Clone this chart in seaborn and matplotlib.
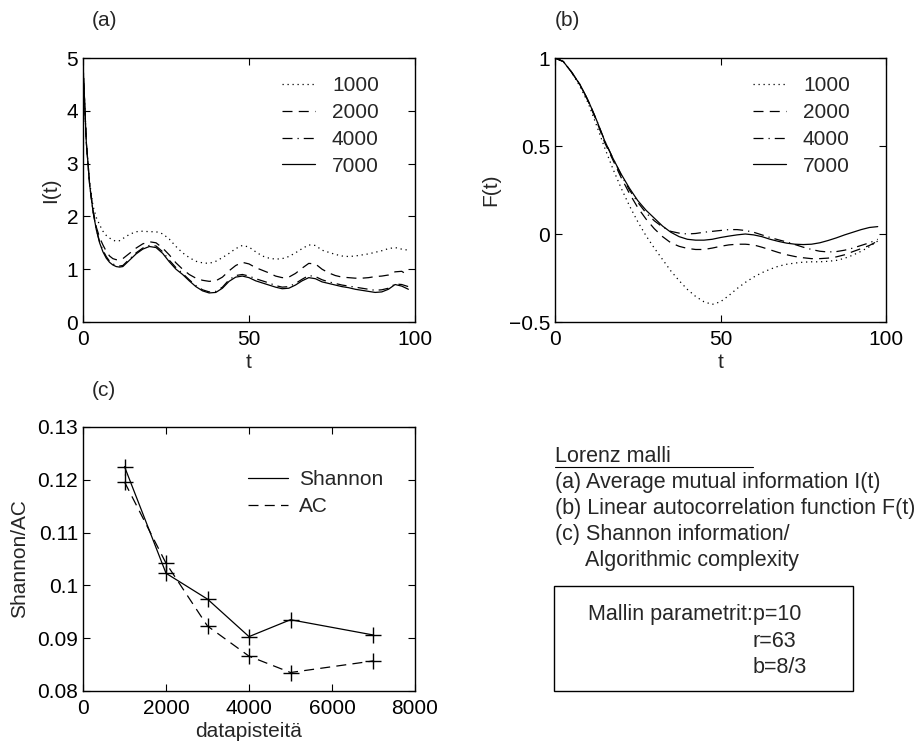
import matplotlib
matplotlib.use('Agg')
import matplotlib.pyplot as plt
import seaborn as sns
from matplotlib.lines import Line2D
from matplotlib.patches import Rectangle
from matplotlib.ticker import FuncFormatter

# (a) average mutual information I(t)
t_a = [0, 1, 2, 3, 4, 5, 6, 7, 8, 9, 10, 11, 12, 14, 16, 18, 20, 22, 24, 26, 28, 30,
       32, 34, 36, 38, 40, 42, 44, 46, 48, 50, 52, 54, 56, 58, 60, 62, 64, 66, 68, 70,
       72, 74, 76, 78, 80, 82, 84, 86, 88, 90, 92, 94, 96, 98]
i_1000 = [4.9, 3.4, 2.65, 2.2, 1.98, 1.84, 1.72, 1.64, 1.59, 1.55, 1.53, 1.54, 1.58, 1.66,
          1.71, 1.72, 1.71, 1.71, 1.67, 1.57, 1.43, 1.31, 1.22, 1.15, 1.12, 1.11, 1.15, 1.22,
          1.3, 1.39, 1.45, 1.42, 1.33, 1.25, 1.21, 1.19, 1.2, 1.24, 1.31, 1.39, 1.46, 1.45,
          1.36, 1.32, 1.28, 1.25, 1.24, 1.25, 1.27, 1.29, 1.32, 1.35, 1.39, 1.41, 1.38, 1.36]
i_2000 = [4.9, 3.4, 2.6, 2.12, 1.8, 1.6, 1.46, 1.34, 1.25, 1.2, 1.18, 1.18, 1.2, 1.3, 1.4,
          1.48, 1.52, 1.5, 1.4, 1.27, 1.12, 1.0, 0.9, 0.83, 0.79, 0.77, 0.78, 0.85, 0.97,
          1.07, 1.13, 1.1, 1.03, 0.98, 0.93, 0.87, 0.84, 0.85, 0.92, 1.02, 1.11, 1.1, 1.0,
          0.93, 0.88, 0.85, 0.84, 0.83, 0.83, 0.84, 0.86, 0.87, 0.89, 0.95, 0.96, 0.88]
i_4000 = [4.9, 3.4, 2.6, 2.1, 1.76, 1.52, 1.36, 1.24, 1.15, 1.1, 1.07, 1.06, 1.07, 1.19,
          1.31, 1.4, 1.45, 1.44, 1.33, 1.17, 1.03, 0.92, 0.8, 0.69, 0.61, 0.57, 0.58, 0.66,
          0.8, 0.88, 0.9, 0.87, 0.82, 0.78, 0.74, 0.69, 0.66, 0.67, 0.73, 0.81, 0.88, 0.86,
          0.8, 0.76, 0.73, 0.7, 0.68, 0.66, 0.64, 0.62, 0.6, 0.61, 0.64, 0.72, 0.71, 0.67]
i_7000 = [4.9, 3.4, 2.6, 2.1, 1.75, 1.5, 1.33, 1.21, 1.13, 1.08, 1.05, 1.04, 1.05, 1.17,
          1.29, 1.38, 1.43, 1.41, 1.3, 1.14, 1.0, 0.9, 0.78, 0.67, 0.59, 0.55, 0.56, 0.64,
          0.77, 0.85, 0.87, 0.84, 0.78, 0.74, 0.7, 0.66, 0.63, 0.64, 0.7, 0.78, 0.84, 0.82,
          0.76, 0.73, 0.7, 0.67, 0.65, 0.62, 0.6, 0.58, 0.56, 0.57, 0.62, 0.71, 0.68, 0.62]

# (b) linear autocorrelation F(t)
t_b = [0, 2.5, 5, 7.5, 10, 12.5, 15, 17.5, 20, 22.5, 25, 27.5, 30, 32.5, 35, 37.5, 40,
       42.5, 45, 47.5, 50, 52.5, 55, 57.5, 60, 62.5, 65, 67.5, 70, 72.5, 75, 77.5, 80,
       82.5, 85, 87.5, 90, 92.5, 95, 97.5]
f_1000 = [1.0, 0.98, 0.92, 0.84, 0.745, 0.62, 0.49, 0.37, 0.26, 0.16, 0.07, -0.01, -0.08,
          -0.145, -0.21, -0.265, -0.315, -0.355, -0.385, -0.4, -0.385, -0.35, -0.31, -0.275,
          -0.245, -0.22, -0.2, -0.183, -0.172, -0.165, -0.16, -0.158, -0.158, -0.155, -0.15,
          -0.138, -0.12, -0.098, -0.072, -0.04]
f_2000 = [1.0, 0.98, 0.92, 0.85, 0.755, 0.645, 0.52, 0.42, 0.32, 0.23, 0.15, 0.085, 0.03,
          -0.015, -0.05, -0.07, -0.082, -0.088, -0.088, -0.08, -0.07, -0.062, -0.058, -0.058,
          -0.062, -0.075, -0.09, -0.105, -0.118, -0.128, -0.135, -0.14, -0.14, -0.137, -0.13,
          -0.118, -0.1, -0.083, -0.065, -0.04]
f_4000 = [1.0, 0.98, 0.92, 0.85, 0.76, 0.65, 0.53, 0.43, 0.335, 0.25, 0.18, 0.12, 0.075,
          0.04, 0.015, 0.005, 0.0, 0.003, 0.01, 0.015, 0.02, 0.025, 0.025, 0.02, 0.01, -0.005,
          -0.02, -0.033, -0.045, -0.06, -0.075, -0.088, -0.098, -0.102, -0.1, -0.092, -0.08,
          -0.065, -0.05, -0.03]
f_7000 = [1.0, 0.98, 0.92, 0.85, 0.76, 0.65, 0.53, 0.43, 0.34, 0.26, 0.19, 0.135, 0.09,
          0.045, 0.01, -0.015, -0.03, -0.035, -0.035, -0.03, -0.02, -0.012, -0.005, 0.0,
          -0.005, -0.015, -0.03, -0.042, -0.052, -0.058, -0.06, -0.058, -0.05, -0.037, -0.022,
          -0.005, 0.01, 0.025, 0.037, 0.042]

# (c) Shannon / AC vs data points
n_points = [1000, 2000, 3000, 4000, 5000, 7000]
shannon = [0.1225, 0.1023, 0.0974, 0.0903, 0.0935, 0.0906]
ac = [0.1196, 0.1042, 0.0923, 0.0866, 0.0835, 0.0857]

labels = ['1000', '2000', '4000', '7000']
dashed = (0, (8, 5))
styles = [(0, (1, 3)), dashed, (0, (8, 4, 1, 4)), '-']

sns.set_style('ticks')
plt.rcParams['font.family'] = ['Liberation Sans', 'DejaVu Sans']
plt.rcParams.update({
    'font.size': 15,
    'xtick.direction': 'in', 'ytick.direction': 'in',
    'xtick.top': True, 'ytick.right': True,
    'xtick.major.size': 5, 'ytick.major.size': 5,
    'xtick.major.width': 0.8, 'ytick.major.width': 0.8,
    'xtick.major.pad': 5.5, 'ytick.major.pad': 3.5,
    'xtick.labelsize': 15, 'ytick.labelsize': 15,
    'axes.linewidth': 1.0, 'axes.edgecolor': 'k',
    'xtick.color': 'k', 'ytick.color': 'k',
})

W, H = 920, 747
fig = plt.figure(figsize=(9.2, 7.47), dpi=100)


def fx(px):
    return px / W


def fy(py):
    return 1 - py / H


def box(l, t, r, b):
    return [fx(l), fy(b), fx(r) - fx(l), fy(t) - fy(b)]


axA = fig.add_axes(box(83, 58, 415, 322))
axB = fig.add_axes(box(555, 58, 886, 322))
axC = fig.add_axes(box(83, 427, 415, 691))

fmt = FuncFormatter(lambda v, p: f'{v:g}'.replace('-', '\u2212'))
leg_kw = dict(loc='upper left', bbox_transform=fig.transFigure, frameon=False, fontsize=15,
              borderpad=0, borderaxespad=0)

# panel a
for lab, ls, vals in zip(labels, styles, [i_1000, i_2000, i_4000, i_7000]):
    sns.lineplot(x=t_a, y=vals, ax=axA, color='k', lw=0.9, linestyle=ls, label=lab)
axA.set_xlim(0, 100)
axA.set_ylim(0, 5)
axA.set_xticks([0, 50, 100])
axA.set_yticks([0, 1, 2, 3, 4, 5])
axA.set_xlabel('t', fontsize=15)
axA.set_ylabel('I(t)', fontsize=15)
axA.xaxis.set_label_coords(0.5, -0.117)
axA.yaxis.set_label_coords(-0.069, 0.5)
axA.legend(bbox_to_anchor=(fx(282), fy(76)), handlelength=1.6, handletextpad=0.8,
           labelspacing=0.38, **leg_kw)

# panel b
for lab, ls, vals in zip(labels, styles, [f_1000, f_2000, f_4000, f_7000]):
    sns.lineplot(x=t_b, y=vals, ax=axB, color='k', lw=0.9, linestyle=ls, label=lab)
axB.set_xlim(0, 100)
axB.set_ylim(-0.5, 1)
axB.set_xticks([0, 50, 100])
axB.set_yticks([-0.5, 0, 0.5, 1])
axB.yaxis.set_major_formatter(fmt)
axB.set_xlabel('t', fontsize=15)
axB.set_ylabel('F(t)', fontsize=15)
axB.xaxis.set_label_coords(0.5, -0.117)
axB.yaxis.set_label_coords(-0.166, 0.5)
axB.legend(bbox_to_anchor=(fx(753), fy(76)), handlelength=1.6, handletextpad=0.8,
           labelspacing=0.38, **leg_kw)

# panel c, lines and + markers
sns.lineplot(x=n_points, y=shannon, ax=axC, color='k', lw=0.9, marker='+',
             markersize=11, markeredgewidth=1.0, markeredgecolor='k')
sns.lineplot(x=n_points, y=ac, ax=axC, color='k', lw=0.9, linestyle=dashed,
             marker='+', markersize=11, markeredgewidth=1.0, markeredgecolor='k')
axC.set_xlim(0, 8000)
axC.set_ylim(0.08, 0.13)
axC.set_xticks([0, 2000, 4000, 6000, 8000])
axC.set_yticks([0.08, 0.09, 0.10, 0.11, 0.12, 0.13])
axC.yaxis.set_major_formatter(FuncFormatter(lambda v, p: f'{round(v, 3):g}'))
axC.set_xlabel('datapisteitä', fontsize=15)
axC.set_ylabel('Shannon/AC', fontsize=15)
axC.xaxis.set_label_coords(0.5, -0.117)
axC.yaxis.set_label_coords(-0.163, 0.5)
handles = [Line2D([], [], color='k', lw=0.9), Line2D([], [], color='k', lw=0.9, ls=dashed)]
axC.legend(handles, ['Shannon', 'AC'], bbox_to_anchor=(fx(248), fy(470)), handlelength=1.9,
           handletextpad=0.55, labelspacing=0.38, **leg_kw)

# panel letters
fig.text(fx(92), fy(21), '(a)', fontsize=15, va='center', ha='left')
fig.text(fx(555), fy(21), '(b)', fontsize=15, va='center', ha='left')
fig.text(fx(92), fy(391), '(c)', fontsize=15, va='center', ha='left')

# description text
desc = ['Lorenz malli', '(a) Average mutual information I(t)',
        '(b) Linear autocorrelation function F(t)', '(c) Shannon information/']
for k, line in enumerate(desc):
    fig.text(fx(555), fy(462 + 26 * k), line, fontsize=15.5, va='baseline', ha='left')
fig.text(fx(585), fy(566), 'Algorithmic complexity', fontsize=15.5, va='baseline', ha='left')
fig.add_artist(Line2D([fx(555), fx(753)], [fy(467), fy(467)], transform=fig.transFigure,
                      color='k', lw=0.8))

fig.add_artist(Rectangle((fx(554), fy(691)), fx(853) - fx(554), fy(586) - fy(691),
                         transform=fig.transFigure, fill=False, ec='k', lw=1.0))
fig.text(fx(588), fy(620), 'Mallin parametrit:p=10', fontsize=15.5, va='baseline', ha='left')
fig.text(fx(753), fy(647), 'r=63', fontsize=15.5, va='baseline', ha='left')
fig.text(fx(753), fy(673), 'b=8/3', fontsize=15.5, va='baseline', ha='left')

fig.savefig('out.png', dpi=100)
